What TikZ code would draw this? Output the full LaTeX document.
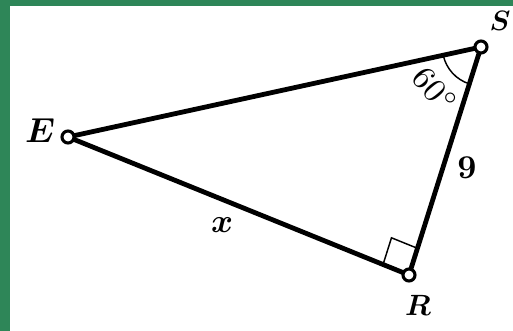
\documentclass[tikz,border=0pt]{standalone}
\usepackage{amsmath}
\usepackage{amssymb}
\usepackage{graphicx}
\usepackage{tikz}
\usetikzlibrary{
    calc,
    angles,
    quotes
}
\definecolor{slidegreen}{RGB}{46,134,88}
\newcommand{\bigtxt}[2]{\scalebox{#1}{#2}}

\begin{document}
\begin{tikzpicture}[x=0.75pt,y=-0.75pt,line width=3.6pt,
    lbl/.style={inner sep=0pt},
    vertexdot/.style={circle,draw,fill=white,line width=2.3pt,inner sep=0pt,minimum size=9pt}]
%\draw [help lines](0,0) grid (513,331);
\fill [slidegreen] (0,0) rectangle (513,331);
\fill [white] (10,6) rectangle (513,331);
\useasboundingbox (0,0) rectangle (513,331);
\coordinate (E) at (68,137);
\coordinate (S) at (481,47);
\coordinate (R) at (409,275);
\draw [-] (E) -- (S);
\draw [-] (E) -- (R);
\draw [-] (S) -- (R);
% right angle at R
\coordinate (R1) at ($(R)!21pt!(E)$);
\coordinate (R2) at ($(R)!21pt!(S)$);
\coordinate (R3) at ($(R1)+(R2)-(R)$);
\draw [-,line width=1.1pt] (R1) -- (R3) -- (R2);
% angle at S
\draw [-,line width=1.1pt] pic [draw,angle radius=29pt] {angle=E--S--R};
\node [vertexdot] (e) at (E) {};
\node [vertexdot] (s) at (S) {};
\node [vertexdot] (r) at (R) {};
\node [lbl] (lE) at (40,131) {\bigtxt{2.6}{$\boldsymbol{E}$}};
\node [lbl] (lS) at (500,21) {\bigtxt{2.1}{$\boldsymbol{S}$}};
\node [lbl] (lR) at (418,305) {\bigtxt{2.2}{$\boldsymbol{R}$}};
\node [lbl] (lx) at (222,225) {\bigtxt{2.5}{$\boldsymbol{x}$}};
\node [lbl] (l9) at (467,168) {\bigtxt{2.5}{$\mathbf{9}$}};
\node [lbl,rotate=-50] (la) at (435,90) {\bigtxt{2.5}{$60^{\circ}$}};
\end{tikzpicture}
\end{document}
